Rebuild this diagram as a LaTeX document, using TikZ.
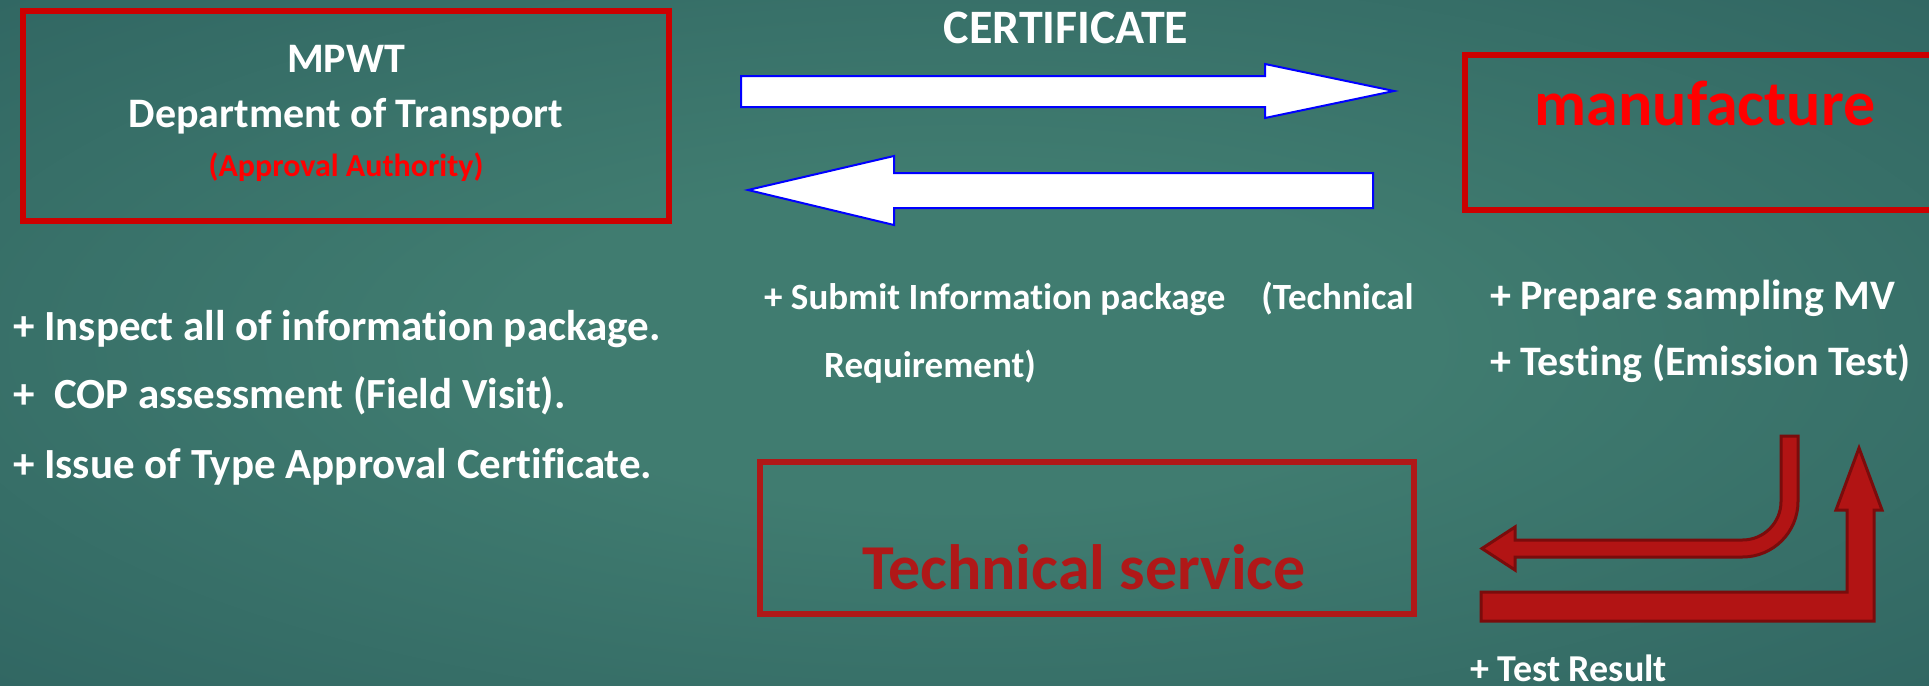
\documentclass[tikz,border=0pt]{standalone}
\usepackage{fontspec}
\setmainfont{Carlito}[Ligatures=NoCommon]
\definecolor{bgin}{RGB}{64,124,112}
\definecolor{bgout}{RGB}{26,70,78}
\definecolor{boxred}{RGB}{204,0,0}
\definecolor{txtred}{RGB}{255,0,0}
\definecolor{darkred}{RGB}{176,24,24}
\definecolor{arrfill}{RGB}{178,20,20}
\definecolor{arrline}{RGB}{122,12,12}
\definecolor{arrblue}{RGB}{0,0,255}
\pgfdeclareradialshading{bgshade}{\pgfpoint{0bp}{0bp}}{color(0bp)=(bgin); color(12bp)=(bgin); color(72bp)=(bgout)}
\begin{document}
\begin{tikzpicture}[x=1pt,y=-1pt,
  wt/.style={text=white,font=\bfseries\fontsize{#1}{#1}\selectfont,inner sep=0pt},
  rtxt/.style={text=#1,inner sep=0pt},
  frame/.style={draw=#1,line width=6pt,inner sep=0pt,fill=none},
  whitearrow/.style={fill=white,draw=arrblue,line width=2pt,line join=miter},
  redarrow/.style={fill=arrfill,draw=arrline,line width=3pt,line join=miter}]
\useasboundingbox (0,0) rectangle (1929,685);
\begin{scope}
\clip (0,0) rectangle (1929,685);
\fill[shading=bgshade] (0,0) rectangle (1929,685);

% boxes
\node[frame=boxred,minimum width=646pt,minimum height=210pt] (mpwt) at (346,116) {};
\node[frame=boxred,minimum width=475pt,minimum height=155pt] (manufbox) at (1702.5,132.5) {};
\node[frame=darkred,minimum width=654pt,minimum height=152pt] (tsbox) at (1087,538) {};

% box texts
\node[wt=42,anchor=base] (t1) at (346,73) {MPWT};
\node[wt=42,anchor=base] (t2) at (346,127) {Department of Transport};
\node[rtxt=txtred,font=\bfseries\fontsize{32}{32}\selectfont,anchor=base] (t3) at (346,176) {(Approval Authority)};
\node[rtxt=txtred,font=\bfseries\fontsize{64}{64}\selectfont,anchor=base] (manuf) at (1705,125) {manufacture};
\node[rtxt=darkred,font=\bfseries\fontsize{64}{64}\selectfont,anchor=base] (ts) at (1084,589) {Technical service};

% certificate
\node[wt=48,anchor=base] (cert) at (1066,44) {CERTIFICATE};

% white arrows
\draw[whitearrow] (741,76) -- (1265,76) -- (1265,64) -- (1394,91) -- (1265,118) -- (1265,107) -- (741,107) -- cycle;
\draw[whitearrow] (1373,173) -- (894,173) -- (894,156) -- (748,190) -- (894,225) -- (894,208) -- (1373,208) -- cycle;

% left list
\node[wt=43,anchor=base west] (l1) at (13,340) {+ Inspect all of information package.};
\node[wt=43,anchor=base west] (l2) at (13,408) {+\ \ COP assessment (Field Visit).};
\node[wt=43,anchor=base west] (l3) at (13,478) {+ Issue of Type Approval Certificate.};

% middle
\node[wt=37,anchor=base west] (m1) at (764,309) {+ Submit Information package\hspace{36pt}(Technical};
\node[wt=37,anchor=base west] (m2) at (824,377) {Requirement)};

% right
\node[wt=42,anchor=base west] (r1) at (1490,309) {+ Prepare sampling MV};
\node[wt=42,anchor=base west] (r2) at (1490,375) {+ Testing (Emission Test)};

% red arrows
\draw[redarrow] (1781,436) -- (1798,436) -- (1798,501.5)
  .. controls (1798,532.15) and (1773.15,557) .. (1742.5,557)
  -- (1515,557) -- (1515,570) -- (1482,548.5) -- (1515,527) -- (1515,540) -- (1742.5,540)
  .. controls (1763.76,540) and (1781,522.76) .. (1781,501.5) -- cycle;
\draw[redarrow] (1481,592) -- (1847,592) -- (1847,510) -- (1836,510) -- (1859,448) -- (1882,510) -- (1874,510) -- (1874,621) -- (1481,621) -- cycle;

\node[wt=38,anchor=base west] (tr) at (1470,681) {+ Test Result};
\end{scope}
\end{tikzpicture}
\end{document}
